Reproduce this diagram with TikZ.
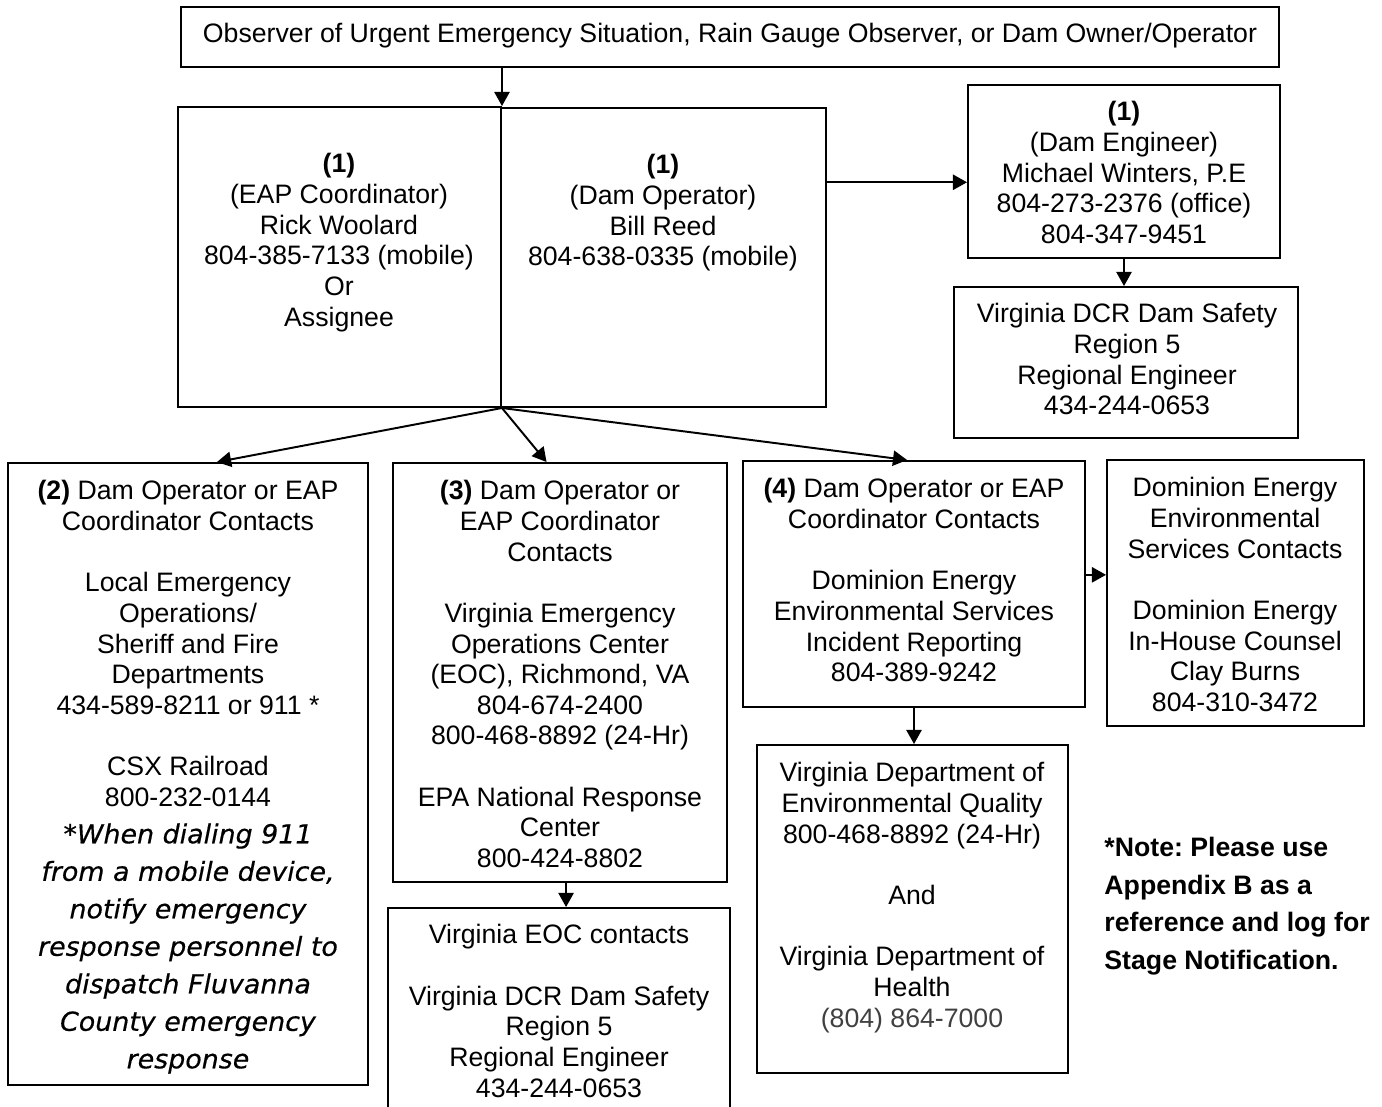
\documentclass[tikz,border=0pt]{standalone}
\usepackage{fontspec}
\setmainfont{Liberation Sans}
\newfontfamily\dialfont[FakeStretch=1.03,FakeBold=0.5]{DejaVu Sans}
\usepackage{xcolor}
\usetikzlibrary{arrows.meta,positioning,fit,calc}
\definecolor{phonegrey}{HTML}{404040}
\newcommand{\blankline}{\\[14.1pt]}
\frenchspacing

\begin{document}
\begin{tikzpicture}[x=0.46pt,y=-0.46pt, %pixel units
	box/.style={draw,line width=0.9pt,inner sep=0pt},
	txt/.style={anchor=north,align=center,inner sep=0pt,font=\fontsize{12.27}{14.1}\selectfont},
	dial/.style={anchor=north,align=center,inner sep=0pt,font=\dialfont\itshape\fontsize{12}{17.25}\selectfont},
	notetxt/.style={anchor=north west,align=left,inner sep=0pt,font=\bfseries\fontsize{12.27}{17.25}\selectfont},
	arr/.style={-{Triangle[length=6.5pt,width=7pt]},line width=0.9pt}]
		\useasboundingbox (0,0) rectangle (1382,1106);
		%boxes
		\node[box,fit={(181,7) (1279,67)}] (top) {};
		\node[box,fit={(178,107) (501,407)}] (eap) {};
		\node[box,fit={(501,108) (826,407)}] (op) {};
		\node[box,fit={(968,85) (1280,258)}] (eng) {};
		\node[box,fit={(954,287) (1298,438)}] (dcr) {};
		\node[box,fit={(8,463) (368,1085)}] (c2) {};
		\node[box,fit={(393,463) (727,882)}] (c3) {};
		\node[box,fit={(388,908) (730,1120)}] (c3b) {};
		\node[box,fit={(743,461) (1085,707)}] (c4) {};
		\node[box,fit={(757,745) (1068,1073)}] (c4b) {};
		\node[box,fit={(1107,460) (1364,726)}] (dom) {};
		%texts
		\node[txt] (toptxt) at (730,23) {Observer of Urgent Emergency Situation, Rain Gauge Observer, or Dam Owner/Operator};
		\node[txt] (eaptxt) at (339,153) {\textbf{(1)}\\(EAP Coordinator)\\Rick Woolard\\804-385-7133 (mobile)\\Or\\Assignee};
		\node[txt] (optxt) at (663,154) {\textbf{(1)}\\(Dam Operator)\\Bill Reed\\804-638-0335 (mobile)};
		\node[txt] (engtxt) at (1124,101) {\textbf{(1)}\\(Dam Engineer)\\Michael Winters, P.E\\804-273-2376 (office)\\804-347-9451};
		\node[txt] (dcrtxt) at (1127,303) {Virginia DCR Dam Safety\\Region 5\\Regional Engineer\\434-244-0653};
		\node[txt] (c2txt) at (188,480) {\textbf{(2)} Dam Operator or EAP\\Coordinator Contacts\blankline Local Emergency\\Operations/\\Sheriff and Fire\\Departments\\434-589-8211 or 911 *\blankline CSX Railroad\\800-232-0144};
		\node[dial] (c2dial) at (188,823) {*When dialing 911\\from a mobile device,\\notify emergency\\response personnel to\\dispatch Fluvanna\\County emergency\\response};
		\node[txt] (c3txt) at (560,480) {\textbf{(3)} Dam Operator or\\EAP Coordinator\\Contacts\blankline Virginia Emergency\\Operations Center\\(EOC), Richmond, VA\\804-674-2400\\800-468-8892 (24-Hr)\blankline EPA National Response\\Center\\800-424-8802};
		\node[txt] (c3btxt) at (559,924) {Virginia EOC contacts\blankline Virginia DCR Dam Safety\\Region 5\\Regional Engineer\\434-244-0653};
		\node[txt] (c4txt) at (914,478) {\textbf{(4)} Dam Operator or EAP\\Coordinator Contacts\blankline Dominion Energy\\Environmental Services\\Incident Reporting\\804-389-9242};
		\node[txt] (c4btxt) at (912,762) {Virginia Department of\\Environmental Quality\\800-468-8892 (24-Hr)\blankline And\blankline Virginia Department of\\Health\\\textcolor{phonegrey}{(804) 864-7000}};
		\node[txt] (domtxt) at (1235,477) {Dominion Energy\\Environmental\\Services Contacts\blankline Dominion Energy\\In-House Counsel\\Clay Burns\\804-310-3472};
		\node[notetxt] (note) at (1104,837) {*Note: Please use\\Appendix B as a\\reference and log for\\Stage Notification.};
		%arrows
		\draw[arr] (eap.north east |- top.south) -- (eap.north east);
		\draw[arr] ($(op.north east)!0.25!(op.south east)$) coordinate (opout) -- (opout -| eng.west);
		\draw[arr] (eng.south) -- (eng.south |- dcr.north);
		\draw[arr] (eap.south east) -- ($(c2.north west)!0.58!(c2.north east)$);
		\draw[arr] (eap.south east) -- ($(c3.north west)!0.46!(c3.north east)$);
		\draw[arr] (eap.south east) -- ($(c4.north west)!0.48!(c4.north east)$);
		\draw[arr] ($(c3.south west)!0.518!(c3.south east)$) coordinate (c3out) -- (c3out |- c3b.north);
		\draw[arr] (c4.south) -- (c4.south |- c4b.north);
		\draw[arr] ($(c4.north east)!0.463!(c4.south east)$) coordinate (c4out) -- (c4out -| dom.west);
	\end{tikzpicture}
\end{document}
